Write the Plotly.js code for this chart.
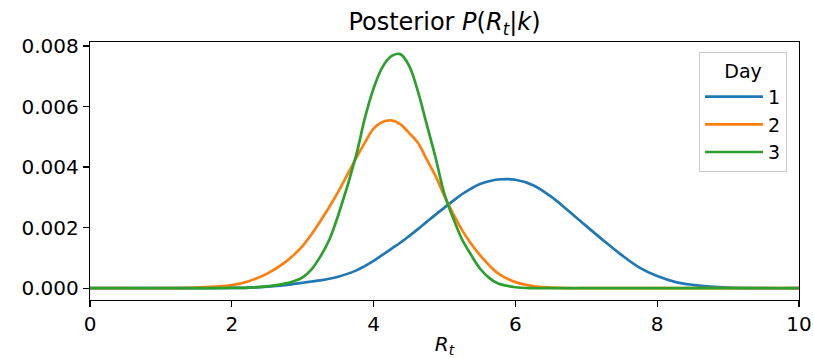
<!DOCTYPE html>
<html>
<head>
<meta charset="utf-8">
<script src="https://cdn.plot.ly/plotly-3.0.1.min.js"></script>
<style>
  html, body { margin: 0; padding: 0; background: #fff; }
  #chart { width: 814px; height: 358px; }
</style>
</head>
<body>
<div id="chart"></div>
<script>
// R_t grid values
const rt = [0, 0.5, 1, 1.5, 2, 2.25, 2.5, 2.75, 2.875, 3, 3.125, 3.25, 3.375, 3.5, 3.75, 3.875, 4, 4.125, 4.25, 4.375, 4.5, 4.625, 4.75, 4.875, 5, 5.125, 5.25, 5.375, 5.5, 5.625, 5.75, 6, 6.25, 6.5, 6.75, 7, 7.25, 7.5, 7.75, 8, 8.25, 8.5, 8.75, 9, 9.5, 10];

// Posterior values per day
const day1 = [0, 0, 0, 0, 0.00001, 0.00002, 0.00005, 0.0001, 0.00014, 0.00018, 0.00022, 0.00026, 0.00031, 0.00038, 0.00058, 0.00073, 0.0009, 0.0011, 0.0013, 0.0015, 0.00172, 0.00195, 0.00219, 0.00243, 0.00266, 0.00289, 0.00311, 0.00329, 0.00344, 0.00353, 0.00359, 0.00358, 0.0034, 0.00303, 0.00255, 0.00205, 0.00156, 0.00109, 0.00068, 0.0004, 0.00021, 0.00011, 0.00005, 0.00002, 0, 0];
const day2 = [0, 0, 0, 0.00002, 0.0001, 0.00024, 0.00048, 0.00085, 0.0011, 0.0014, 0.00178, 0.00222, 0.00268, 0.00318, 0.00428, 0.0048, 0.00527, 0.00549, 0.00554, 0.00542, 0.00513, 0.0048, 0.00425, 0.0037, 0.00304, 0.00245, 0.00191, 0.00147, 0.00109, 0.00077, 0.0005, 0.0002, 0.00007, 0.00002, 0, 0, 0, 0, 0, 0, 0, 0, 0, 0, 0, 0];
const day3 = [0, 0, 0, 0, 0.00001, 0.00002, 0.00006, 0.00015, 0.00023, 0.00036, 0.00062, 0.00105, 0.0016, 0.0024, 0.00435, 0.0056, 0.0066, 0.0073, 0.00766, 0.00773, 0.00735, 0.0065, 0.0054, 0.0043, 0.0031, 0.0023, 0.0016, 0.0011, 0.00065, 0.00035, 0.00016, 0.00003, 0, 0, 0, 0, 0, 0, 0, 0, 0, 0, 0, 0, 0, 0];

const seriesNames = ["1", "2", "3"];
const seriesColors = ["#1f77b4", "#ff7f0e", "#2ca02c"];
const seriesData = [day1, day2, day3];

const yTicks = [0, 0.002, 0.004, 0.006, 0.008];
const xTicks = [0, 2, 4, 6, 8, 10];

const font = "DejaVu Sans, sans-serif";

const traces = seriesData.map((ys, i) => ({
  x: rt,
  y: ys,
  type: "scatter",
  mode: "lines",
  name: seriesNames[i],
  line: { color: seriesColors[i], width: 2.7, shape: "spline", smoothing: 1 }
}));

const layout = {
  width: 814,
  height: 358,
  margin: { l: 90, r: 15, t: 42, b: 58 },
  paper_bgcolor: "#fff",
  plot_bgcolor: "#fff",
  font: { family: font, size: 20, color: "#000" },
  title: {
    text: "Posterior <i>P</i>(<i>R</i><sub><i>t</i></sub>|<i>k</i>)",
    font: { family: font, size: 24, color: "#000" },
    x: 0.5, xref: "paper", xanchor: "center",
    y: 0.94, yref: "container", yanchor: "middle"
  },
  xaxis: {
    range: [0, 10],
    tickvals: xTicks,
    ticktext: xTicks.map(String),
    ticks: "outside", ticklen: 6, tickwidth: 1.2, tickcolor: "#000",
    showline: true, mirror: true, linecolor: "#000", linewidth: 1.2,
    showgrid: false, zeroline: false,
    tickfont: { family: font, size: 20, color: "#000" },
    title: { text: "<i>R</i><sub><i>t</i></sub>", font: { family: font, size: 20, color: "#000" }, standoff: 6 }
  },
  yaxis: {
    range: [-0.00039, 0.00813],
    tickvals: yTicks,
    ticktext: yTicks.map(v => v.toFixed(3)),
    ticks: "outside", ticklen: 6, tickwidth: 1.2, tickcolor: "#000",
    showline: true, mirror: true, linecolor: "#000", linewidth: 1.2,
    showgrid: false, zeroline: false,
    tickfont: { family: font, size: 20, color: "#000" }
  },
  showlegend: true,
  legend: {
    x: 0.859, y: 0.961, xanchor: "left", yanchor: "top",
    bgcolor: "rgba(255,255,255,0.9)",
    bordercolor: "#cccccc", borderwidth: 1,
    font: { family: font, size: 19, color: "#000" },
    title: { text: "Day", side: "top center", font: { family: font, size: 19, color: "#000" } },
    itemwidth: 58,
    tracegroupgap: 0
  }
};

Plotly.newPlot("chart", traces, layout, { displayModeBar: false, staticPlot: true });
</script>
</body>
</html>
